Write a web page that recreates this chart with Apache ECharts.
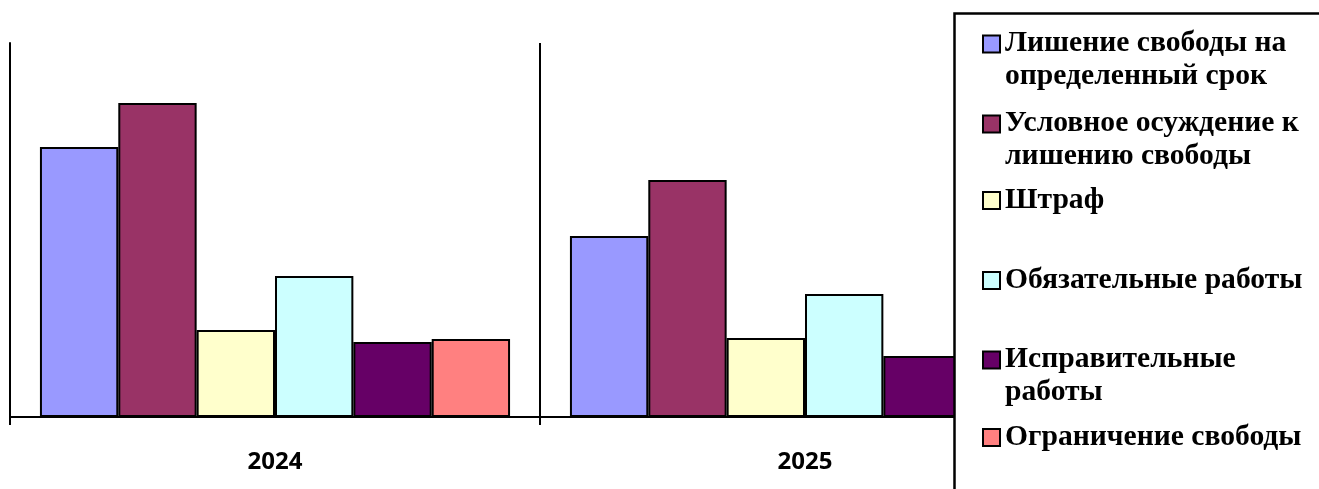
<!DOCTYPE html>
<html>
<head>
<meta charset="utf-8">
<script src="https://cdn.jsdelivr.net/npm/echarts@6/dist/echarts.min.js"></script>
<style>html,body{margin:0;padding:0;background:#fff}#c{width:1319px;height:489px}</style>
</head>
<body>
<div id="c"></div>
<script>
const categories = ['2024', '2025'];
const seriesNames = [
  'Лишение свободы на определенный срок',
  'Условное осуждение к лишению свободы',
  'Штраф',
  'Обязательные работы',
  'Исправительные работы',
  'Ограничение свободы'
];
const legendLabels = [
  'Лишение свободы на\nопределенный срок',
  'Условное осуждение к\nлишению свободы',
  'Штраф',
  'Обязательные работы',
  'Исправительные\nработы',
  'Ограничение свободы'
];
const deprivation = [270, 181];
const conditional = [314, 237];
const fine = [87, 79];
const compulsoryWork = [141, 123];
const correctionalWork = [75, 61];
const restriction = [78, 66];
const seriesValues = [deprivation, conditional, fine, compulsoryWork, correctionalWork, restriction];
const colors = ['#9999FF', '#993366', '#FFFFCC', '#CCFFFF', '#660066', '#FF8080'];
const legendTops = [27, 107, 184, 264, 343, 421];

const chart = echarts.init(document.getElementById('c'), null, {renderer: 'canvas'});
const option = {
  animation: false,
  backgroundColor: '#fff',
  grid: {left: 10, right: 249, top: 43, bottom: 72, containLabel: false},
  xAxis: {
    type: 'category',
    data: categories,
    axisLine: {show: true, lineStyle: {color: '#000', width: 2}},
    axisTick: {show: true, length: 8, lineStyle: {color: '#000', width: 2}},
    splitLine: {show: true, lineStyle: {color: '#000', width: 2}},
    axisLabel: {color: '#000', fontFamily: 'Open Sans', fontWeight: 'bold', fontSize: 24, margin: 33}
  },
  yAxis: {
    type: 'value', min: 0, max: 374,
    axisLine: {show: true, lineStyle: {color: '#000', width: 2}},
    axisTick: {show: false}, axisLabel: {show: false}, splitLine: {show: false}
  },
  graphic: [{
    type: 'rect', z: 100,
    shape: {x: 954.5, y: 13.5, width: 420, height: 520},
    style: {fill: '#fff', stroke: '#000', lineWidth: 2.5}
  }],
  legend: seriesNames.map((n, i) => {
    const twoLine = legendLabels[i].indexOf('\n') >= 0;
    return {
      data: [n], left: 982, top: legendTops[i], padding: 0, z: 200,
      orient: 'vertical',
      icon: twoLine ? 'path://M0,0H17V17H0Z M17,49' : 'rect',
      itemWidth: 17, itemHeight: twoLine ? 49 : 17,
      selectedMode: false,
      formatter: () => legendLabels[i],
      textStyle: {
        color: '#000', fontFamily: 'Liberation Serif', fontWeight: 'bold', fontSize: 29.6, lineHeight: 33
      }
    };
  }),
  series: seriesNames.map((n, i) => ({
    name: n, type: 'bar', data: seriesValues[i],
    barGap: '0%', barCategoryGap: '11.3%',
    itemStyle: {color: colors[i], borderColor: '#000', borderWidth: 2}
  }))
};
chart.setOption(option);
</script>
</body>
</html>
